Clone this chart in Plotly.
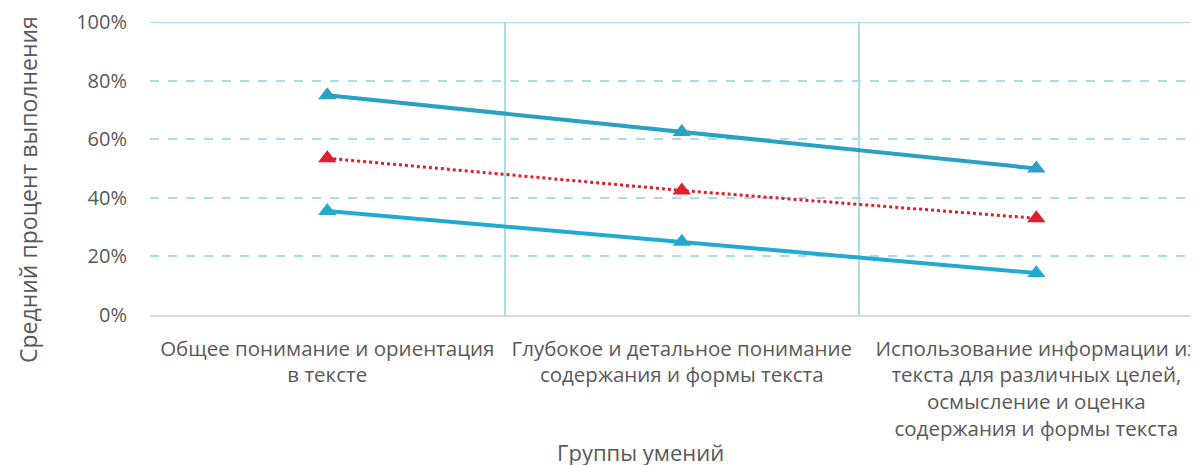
import plotly.graph_objects as go

categories = [
    "Общее понимание и ориентация<br>в тексте",
    "Глубокое и детальное понимание<br>содержания и формы текста",
    "Использование информации из<br>текста для различных целей,<br>осмысление и оценка<br>содержания и формы текста",
]
upper = [0.75, 0.625, 0.50]
mean = [0.535, 0.425, 0.33]
lower = [0.355, 0.25, 0.143]
y_ticks = [0, 0.2, 0.4, 0.6, 0.8, 1.0]
y_labels = ["0%", "20%", "40%", "60%", "80%", "100%"]

font = "Open Sans"
gray = "#595959"
grid = "#a9dde9"

fig = go.Figure()
fig.add_trace(go.Scatter(x=categories, y=upper, mode="lines+markers",
                         line=dict(color="#2aa1c3", width=4),
                         marker=dict(symbol="triangle-up", size=16, color="#2aa1c3"),
                         showlegend=False))
fig.add_trace(go.Scatter(x=categories, y=mean, mode="lines+markers",
                         line=dict(color="#e01f2b", width=3, dash="dot"),
                         marker=dict(symbol="triangle-up", size=16, color="#e01f2b"),
                         showlegend=False))
fig.add_trace(go.Scatter(x=categories, y=lower, mode="lines+markers",
                         line=dict(color="#22abd2", width=4),
                         marker=dict(symbol="triangle-up", size=16, color="#22abd2"),
                         showlegend=False))

fig.add_shape(type="line", xref="paper", yref="y", x0=0, x1=1, y0=1, y1=1,
              line=dict(color=grid, width=2), layer="below")

fig.add_annotation(text="Группы умений", xref="paper", yref="paper",
                   x=(640 - 150) / 1048, y=(315 - 452) / 293,
                   xanchor="center", yanchor="middle", showarrow=False,
                   font=dict(size=22, color=gray, family=font))
fig.add_annotation(text="Средний процент выполнения", xref="paper", yref="paper",
                   x=(28 - 150) / 1048, y=(315 - 190) / 293, textangle=-90,
                   xanchor="center", yanchor="middle", showarrow=False,
                   font=dict(size=23, color=gray, family=font))

fig.update_layout(
    width=1190, height=457,
    margin=dict(l=142, r=0, t=14, b=150, autoexpand=False),
    paper_bgcolor="white", plot_bgcolor="white",
    font=dict(family=font, color=gray, size=20),
    xaxis=dict(
        type="category", range=[-0.5, 2.456], tickson="boundaries",
        showgrid=True, gridcolor=grid, gridwidth=2, automargin=False,
        ticks="", showline=True, linecolor="#d9d9d9", linewidth=2,
        tickfont=dict(size=20.5, color=gray), ticklabelstandoff=14,
        zeroline=False,
    ),
    yaxis=dict(
        range=[0, 1.0], tickvals=y_ticks, ticktext=y_labels, automargin=False,
        showgrid=True, gridcolor=grid, gridwidth=2, griddash="dash",
        zeroline=False, ticks="", ticklen=0, ticklabelstandoff=22,
        tickfont=dict(size=20, color=gray),
    ),
)
fig.write_html("out.html")
